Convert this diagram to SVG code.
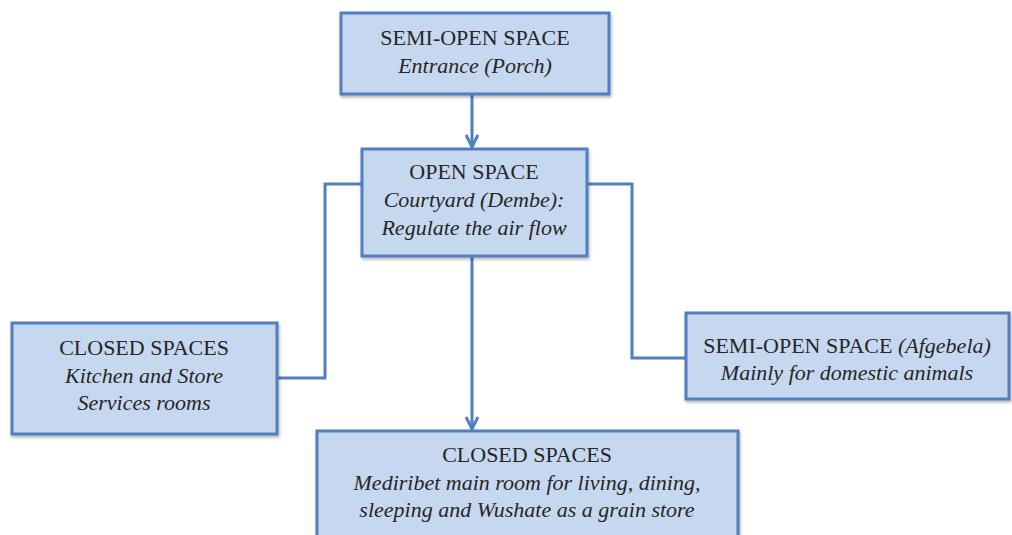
<svg xmlns="http://www.w3.org/2000/svg" width="1012" height="535" viewBox="0 0 1012 535">
<defs>
<style>
.box{fill:#c6d8f0;stroke:#4f7fbd;stroke-width:3}
.t{font-family:"Liberation Serif","Times New Roman",serif;font-size:22px;fill:#262626;text-anchor:middle}
.i{font-style:italic}
.c{fill:none;stroke:#4f7fbd;stroke-width:3}
</style>
<marker id="ah" viewBox="0 0 14 14" refX="13" refY="7" markerWidth="14" markerHeight="14" markerUnits="userSpaceOnUse" orient="auto">
<path d="M1,1 L13,7 L1,13" fill="none" stroke="#4f7fbd" stroke-width="3"/>
</marker>
<filter id="sh" x="-5%" y="-5%" width="110%" height="115%">
<feDropShadow dx="1" dy="2" stdDeviation="1.5" flood-color="#000" flood-opacity="0.3"/>
</filter>
</defs>
<rect width="1012" height="535" fill="#fff"/>
<g id="connectors">
<line class="c" x1="472" y1="95" x2="472" y2="147" marker-end="url(#ah)"/>
<line class="c" x1="472" y1="257" x2="472" y2="429" marker-end="url(#ah)"/>
<polyline class="c" points="362,184 325,184 325,378 277,378"/>
<polyline class="c" points="587,184 632,184 632,358 686,358"/>
</g>
<g id="n-entrance">
<rect class="box" filter="url(#sh)" x="341" y="13" width="268" height="81"/>
<text class="t" x="475" y="45">SEMI-OPEN SPACE</text>
<text class="t i" x="475" y="73">Entrance (Porch)</text>
</g>
<g id="n-courtyard">
<rect class="box" filter="url(#sh)" x="362" y="149" width="225" height="107"/>
<text class="t" x="474" y="179">OPEN SPACE</text>
<text class="t i" x="474" y="207">Courtyard (Dembe):</text>
<text class="t i" x="474" y="235">Regulate the air flow</text>
</g>
<g id="n-kitchen">
<rect class="box" filter="url(#sh)" x="12" y="323" width="265" height="111"/>
<text class="t" x="144" y="355">CLOSED SPACES</text>
<text class="t i" x="144" y="383">Kitchen and Store</text>
<text class="t i" x="144" y="410">Services rooms</text>
</g>
<g id="n-afgebela">
<rect class="box" filter="url(#sh)" x="686" y="313" width="323" height="86"/>
<text class="t" x="847" y="353">SEMI-OPEN SPACE <tspan class="i">(Afgebela)</tspan></text>
<text class="t i" x="847" y="380">Mainly for domestic animals</text>
</g>
<g id="n-mediribet">
<rect class="box" filter="url(#sh)" x="317" y="431" width="421" height="110"/>
<text class="t" x="527" y="462">CLOSED SPACES</text>
<text class="t i" x="527" y="490">Mediribet main room for living, dining,</text>
<text class="t i" x="527" y="517">sleeping and Wushate as a grain store</text>
</g>
</svg>
